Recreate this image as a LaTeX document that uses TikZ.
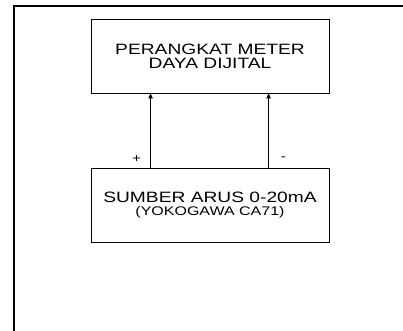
\documentclass[tikz,border=0pt]{standalone}
\usepackage{fontspec}
\setmainfont{Liberation Sans}
\usetikzlibrary{arrows.meta,calc}
\newcommand{\widetxt}[1]{\scalebox{1.28}[1]{#1}}
\begin{document}
\begin{tikzpicture}[x=1pt,y=-1pt,
  box/.style={draw,line width=0.9pt,minimum width=238pt,minimum height=74pt,inner sep=0pt,align=center},
  wire/.style={line width=0.9pt,-{Triangle[length=5pt,width=4.5pt]}},
  pol/.style={font=\fontsize{12}{12}\selectfont,inner sep=0pt}]
\useasboundingbox (0,0) rectangle (403,330);
\draw[line width=2.4pt] (14,331) -- (14,6) -- (404,6);
\node[box,font=\fontsize{15}{14}\selectfont] (meter) at (210,56)
  {\widetxt{PERANGKAT METER}\\\widetxt{DAYA DIJITAL}};
\node[box,font=\fontsize{15}{12.5}\selectfont] (src) at (210,205)
  {\widetxt{SUMBER ARUS 0-20mA}\\{\fontsize{12.5}{12.5}\selectfont\widetxt{(YOKOGAWA CA71)}}};
\draw[wire] ($(src.north west)+(60,0)$) -- ($(meter.south west)+(60,0)$);
\draw[wire] ($(src.north west)+(178,0)$) -- ($(meter.south west)+(178,0)$);
\node[pol] (plus) at ($(src.north west)+(46,-9)$) {\widetxt{+}};
\node[pol] (minus) at ($(src.north west)+(193,-9)$) {\widetxt{-}};
\end{tikzpicture}
\end{document}
